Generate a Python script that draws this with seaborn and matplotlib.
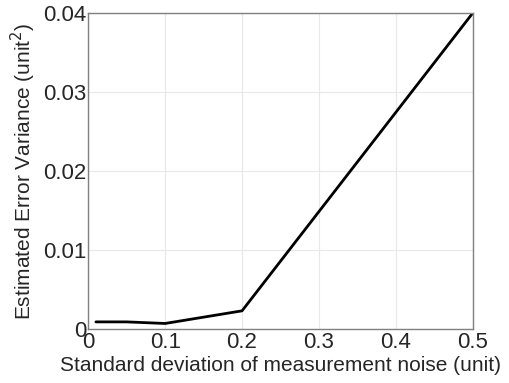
import matplotlib
matplotlib.use("Agg")
import matplotlib.pyplot as plt
import seaborn as sns
import pandas as pd

# ---- data ----
noise_std = [0.01, 0.05, 0.1, 0.2, 0.5]
err_var = [0.0009, 0.0009, 0.0007, 0.0023, 0.04]

df = pd.DataFrame({"noise": noise_std, "var": err_var})

sns.set_style("whitegrid")
plt.rcParams['font.family'] = ['Liberation Sans', 'DejaVu Sans']

fig, ax = plt.subplots(figsize=(5.1, 3.83), dpi=100)
fig.subplots_adjust(left=0.173, right=0.927, top=0.966, bottom=0.141)

sns.lineplot(data=df, x="noise", y="var", color="black", linewidth=2, ax=ax)

ax.set_xlim(0, 0.5)
ax.set_ylim(0, 0.04)
ax.set_xticks([0, 0.1, 0.2, 0.3, 0.4, 0.5])
ax.set_xticklabels(["0", "0.1", "0.2", "0.3", "0.4", "0.5"])
ax.set_yticks([0, 0.01, 0.02, 0.03, 0.04])
ax.set_yticklabels(["0", "0.01", "0.02", "0.03", "0.04"])
ax.tick_params(labelsize=16, length=0)
ax.tick_params(axis="x", pad=2)
ax.tick_params(axis="y", pad=1)
ax.grid(True, color="#e8e8e8", linewidth=0.8)
for s in ax.spines.values():
    s.set_color("#808080")
    s.set_linewidth(1)

ax.set_xlabel("Standard deviation of measurement noise (unit)", fontsize=15, labelpad=2)
ax.set_ylabel("Estimated Error Variance (unit$^2$)", fontsize=15, labelpad=4)

fig.savefig("out.png", dpi=100)
